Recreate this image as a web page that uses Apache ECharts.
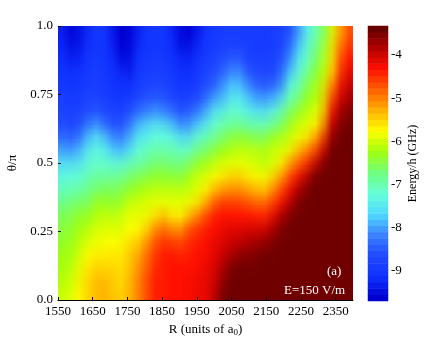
<!DOCTYPE html>
<html>
<head>
<meta charset="utf-8">
<title>Energy map</title>
<script src="https://cdn.jsdelivr.net/npm/echarts@6/dist/echarts.min.js"></script>
<style>
  html, body { margin: 0; padding: 0; background: #fff; }
  #wrap { position: relative; width: 447px; height: 337px; overflow: hidden; }
  /* the map is drawn one pixel per cell and stretched, so the browser smooths it */
  #map { position: absolute; left: 58px; top: 26px; transform-origin: 0 0; }
  #main { position: absolute; left: 0; top: 0; width: 447px; height: 337px; }
</style>
</head>
<body>
<div id="wrap">
  <div id="map"></div>
  <div id="main"></div>
</div>
<script>
var rBins = [1550,1575,1600,1625,1650,1675,1700,1725,1750,1775,1800,1825,1850,1875,1900,1925,1950,1975,2000,2025,2050,2075,2100,2125,2150,2175,2200,2225,2250,2275,2300,2325,2350,2375,2400];
var thetaBins = [0,0.05,0.1,0.15,0.2,0.25,0.3,0.35,0.4,0.45,0.5,0.55,0.6,0.65,0.7,0.75,0.8,0.85,0.9,0.95,1];
// one line per R bin, theta going up from 0 to 1
var energy = [
[-6.0,-6.1,-6.2,-6.2,-6.3,-6.4,-6.5,-6.7,-7.0,-7.3,-7.5,-7.9,-8.3,-8.6,-8.7,-8.8,-8.9,-9.0,-9.1,-9.2,-9.3],
[-5.9,-6.0,-6.1,-6.2,-6.3,-6.4,-6.5,-6.7,-7.0,-7.2,-7.5,-8.0,-8.4,-8.7,-8.8,-8.9,-9.0,-9.1,-9.3,-9.4,-9.6],
[-5.7,-5.8,-5.9,-6.0,-6.1,-6.2,-6.3,-6.5,-6.9,-7.2,-7.5,-7.9,-8.4,-8.7,-8.8,-8.9,-9.0,-9.1,-9.3,-9.5,-9.6],
[-5.5,-5.5,-5.6,-5.7,-5.9,-6.1,-6.3,-6.6,-6.8,-7.0,-7.3,-7.5,-7.9,-8.4,-8.7,-8.8,-8.9,-9.0,-9.1,-9.2,-9.3],
[-5.3,-5.3,-5.4,-5.6,-5.8,-5.9,-6.1,-6.3,-6.6,-6.9,-7.1,-7.3,-7.5,-8.0,-8.5,-8.7,-8.8,-8.8,-8.9,-9.0,-9.0],
[-5.2,-5.2,-5.4,-5.6,-5.7,-5.9,-6.0,-6.2,-6.5,-6.8,-7.1,-7.3,-7.6,-8.2,-8.6,-8.8,-8.9,-8.9,-9.0,-9.0,-9.0],
[-5.3,-5.3,-5.4,-5.5,-5.7,-5.8,-6.0,-6.3,-6.5,-6.8,-7.1,-7.6,-8.0,-8.5,-8.7,-8.9,-9.0,-9.1,-9.1,-9.2,-9.3],
[-5.4,-5.5,-5.5,-5.6,-5.7,-5.9,-6.0,-6.3,-6.5,-6.8,-7.2,-7.8,-8.2,-8.6,-8.8,-9.0,-9.1,-9.2,-9.4,-9.6,-9.7],
[-5.3,-5.3,-5.4,-5.4,-5.5,-5.7,-5.8,-6.0,-6.3,-6.6,-7.0,-7.6,-8.0,-8.4,-8.7,-9.0,-9.1,-9.4,-9.6,-9.7,-9.7],
[-5.0,-5.0,-5.1,-5.2,-5.4,-5.7,-5.8,-5.9,-6.2,-6.5,-6.9,-7.2,-7.5,-7.9,-8.4,-8.7,-8.9,-9.0,-9.1,-9.3,-9.4],
[-4.7,-4.7,-4.8,-4.9,-5.1,-5.5,-5.8,-5.9,-6.1,-6.4,-6.8,-7.1,-7.4,-7.7,-8.2,-8.6,-8.8,-8.9,-9.0,-9.0,-9.1],
[-4.3,-4.3,-4.4,-4.5,-4.7,-5.0,-5.6,-5.8,-6.0,-6.3,-6.6,-6.9,-7.2,-7.5,-8.0,-8.5,-8.7,-8.8,-8.9,-9.0,-9.0],
[-4.3,-4.3,-4.3,-4.3,-4.4,-4.7,-5.2,-5.8,-6.0,-6.3,-6.6,-6.9,-7.2,-7.5,-8.1,-8.5,-8.7,-8.8,-8.9,-9.0,-9.0],
[-4.2,-4.2,-4.2,-4.2,-4.4,-4.8,-5.4,-5.8,-6.0,-6.3,-6.6,-6.9,-7.2,-7.6,-8.2,-8.6,-8.8,-8.9,-9.0,-9.1,-9.2],
[-4.2,-4.2,-4.2,-4.3,-4.5,-5.0,-5.7,-5.8,-6.0,-6.4,-6.7,-7.0,-7.4,-8.0,-8.5,-8.8,-9.0,-9.1,-9.2,-9.4,-9.5],
[-4.2,-4.2,-4.2,-4.3,-4.4,-4.6,-5.3,-5.8,-6.0,-6.2,-6.6,-7.1,-7.5,-8.1,-8.5,-8.8,-9.0,-9.2,-9.3,-9.5,-9.7],
[-4.1,-4.1,-4.2,-4.2,-4.3,-4.4,-4.9,-5.6,-5.9,-6.0,-6.3,-6.7,-7.2,-7.8,-8.3,-8.7,-8.9,-9.0,-9.1,-9.3,-9.5],
[-4.1,-4.1,-4.1,-4.2,-4.2,-4.3,-4.6,-5.2,-5.7,-5.9,-6.2,-6.6,-7.0,-7.5,-8.0,-8.5,-8.7,-8.8,-8.9,-9.0,-9.2],
[-3.9,-4.0,-4.0,-4.1,-4.1,-4.2,-4.3,-4.7,-5.3,-5.7,-6.0,-6.4,-6.8,-7.2,-7.5,-8.0,-8.5,-8.7,-8.8,-8.9,-9.0],
[-3.4,-3.6,-3.8,-3.9,-4.0,-4.1,-4.2,-4.4,-5.0,-5.6,-5.9,-6.2,-6.6,-7.0,-7.4,-7.9,-8.2,-8.5,-8.7,-8.8,-8.9],
[-3.3,-3.3,-3.4,-3.7,-3.9,-4.0,-4.2,-4.4,-4.9,-5.4,-5.8,-6.1,-6.4,-6.8,-7.1,-7.5,-7.8,-8.2,-8.5,-8.8,-8.9],
[-3.3,-3.3,-3.3,-3.5,-3.8,-4.0,-4.2,-4.4,-4.9,-5.3,-5.8,-6.0,-6.3,-6.8,-7.1,-7.4,-7.7,-8.0,-8.4,-8.7,-8.9],
[-3.3,-3.3,-3.3,-3.4,-3.7,-3.9,-4.2,-4.5,-5.0,-5.5,-5.8,-6.0,-6.3,-6.8,-7.3,-7.6,-8.0,-8.4,-8.7,-8.8,-8.9],
[-3.3,-3.3,-3.3,-3.4,-3.6,-3.9,-4.2,-4.6,-5.1,-5.6,-5.9,-6.0,-6.4,-6.9,-7.4,-7.9,-8.3,-8.6,-8.8,-8.9,-8.9],
[-3.3,-3.3,-3.3,-3.3,-3.5,-3.9,-4.3,-4.7,-5.3,-5.7,-6.0,-6.1,-6.5,-7.0,-7.5,-8.0,-8.5,-8.7,-8.8,-8.9,-8.9],
[-3.3,-3.3,-3.3,-3.3,-3.4,-3.7,-4.1,-4.5,-5.0,-5.5,-6.0,-6.0,-6.2,-6.8,-7.3,-7.9,-8.4,-8.7,-8.8,-8.9,-8.9],
[-3.3,-3.3,-3.3,-3.3,-3.3,-3.4,-3.7,-4.2,-4.6,-5.1,-5.7,-5.9,-6.1,-6.6,-7.0,-7.7,-8.3,-8.6,-8.7,-8.8,-8.8],
[-3.3,-3.3,-3.3,-3.3,-3.3,-3.3,-3.4,-3.8,-4.2,-4.6,-5.1,-5.8,-6.0,-6.3,-6.6,-7.0,-7.3,-7.9,-8.3,-8.6,-8.8],
[-3.3,-3.3,-3.3,-3.3,-3.3,-3.3,-3.3,-3.4,-3.7,-4.2,-4.7,-5.3,-5.8,-6.0,-6.3,-6.8,-7.1,-7.4,-7.6,-7.9,-8.2],
[-3.3,-3.3,-3.3,-3.3,-3.3,-3.3,-3.3,-3.3,-3.4,-3.8,-4.4,-4.9,-5.6,-5.9,-6.1,-6.3,-6.6,-6.9,-7.2,-7.4,-7.6],
[-3.3,-3.3,-3.3,-3.3,-3.3,-3.3,-3.3,-3.3,-3.3,-3.3,-3.9,-4.6,-5.2,-5.7,-5.9,-6.2,-6.3,-6.5,-6.7,-6.9,-7.1],
[-3.3,-3.3,-3.3,-3.3,-3.3,-3.3,-3.3,-3.3,-3.3,-3.3,-3.4,-4.0,-4.6,-5.3,-5.8,-5.9,-6.0,-6.2,-6.4,-6.5,-6.7],
[-3.3,-3.3,-3.3,-3.3,-3.3,-3.3,-3.3,-3.3,-3.3,-3.3,-3.3,-3.3,-3.6,-3.9,-4.3,-4.7,-5.1,-5.6,-5.8,-5.9,-6.0],
[-3.3,-3.3,-3.3,-3.3,-3.3,-3.3,-3.3,-3.3,-3.3,-3.3,-3.3,-3.3,-3.3,-3.5,-3.7,-4.0,-4.3,-4.6,-4.8,-5.0,-5.3],
[-3.3,-3.3,-3.3,-3.3,-3.3,-3.3,-3.3,-3.3,-3.3,-3.3,-3.3,-3.3,-3.3,-3.3,-3.4,-3.6,-3.8,-4.0,-4.2,-4.4,-4.6]
];
var barLevels = [-9.7,-9.55,-9.4,-9.25,-9.1,-8.95,-8.8,-8.65,-8.5,-8.35,-8.2,-8.05,-7.9,-7.75,-7.6,-7.45,-7.3,-7.15,-7.0,-6.85,-6.7,-6.55,-6.4,-6.25,-6.1,-5.95,-5.8,-5.65,-5.5,-5.35,-5.2,-5.05,-4.9,-4.75,-4.6,-4.45,-4.3,-4.15,-4.0,-3.85,-3.7,-3.55,-3.4,-3.25];
var rTicks = [1550,1650,1750,1850,1950,2050,2150,2250,2350];
var thetaTicks = [0,0.25,0.5,0.75,1];
var thetaLabels = ['0.0','0.25','0.5','0.75','1.0'];
var barTicks = [-9,-8,-7,-6,-5,-4];
var barMarks = [-9,-4];
var jetColors = ['#0000d0','#1030ff','#2048ff','#3a80ff','#50d8ff','#66ffd8','#70ff80','#a0ff10','#ffff00','#ffb000','#ff6000','#ff1000','#b00000','#600000'];

var mapData = [];
energy.forEach(function(col, i){
  col.forEach(function(v, j){
    mapData.push([i, j, v]);
  });
});
var barData = barLevels.map(function(v, i){ return [0, i, v]; });

var serif = '"Liberation Serif", "DejaVu Serif", serif';
var colorMap = {show:false, type:'continuous', min:-9.7, max:-3.2, inRange:{color:jetColors}};

// map layer
var mapDom = document.getElementById('map');
mapDom.style.width = rBins.length + 'px';
mapDom.style.height = thetaBins.length + 'px';
mapDom.style.transform = 'scale(' + (295 / rBins.length) + ',' + (274 / thetaBins.length) + ')';
var mapChart = echarts.init(mapDom);
mapChart.setOption({
  animation:false,
  grid:{left:0, top:0, right:0, bottom:0, outerBoundsMode:'none'},
  visualMap:colorMap,
  xAxis:{type:'category', data:rBins, show:false},
  yAxis:{type:'category', data:thetaBins, show:false},
  series:[{type:'heatmap', data:mapData, silent:true, progressive:0}]
});

// axes, colour bar and text
var myChart = echarts.init(document.getElementById('main'));
myChart.setOption({
  animation:false,
  textStyle:{fontFamily:serif, color:'#000'},
  grid:[
    {left:58, top:26, width:295, height:274, outerBoundsMode:'none'},
    {left:368, top:26, width:20, height:275, outerBoundsMode:'none'}
  ],
  visualMap:colorMap,
  xAxis:[
    {type:'value', gridIndex:0, position:'top', min:1550, max:2400,
      axisLine:{show:true, lineStyle:{color:'#000', width:1}}, axisTick:{show:false}, axisLabel:{show:false}, splitLine:{show:false}},
    {type:'value', gridIndex:0, position:'bottom', min:1550, max:2400,
      axisLine:{show:false}, splitLine:{show:false},
      axisTick:{show:true, inside:true, length:3, customValues:rTicks, lineStyle:{color:'#000'}},
      axisLabel:{show:true, customValues:rTicks, margin:5, fontSize:13, fontFamily:serif, color:'#000',
        formatter:function(v){ return String(v); }},
      name:'R (units of a{sub|0})', nameLocation:'middle', nameGap:16,
      nameTextStyle:{fontFamily:serif, fontSize:13, color:'#000', rich:{sub:{fontSize:9, verticalAlign:'bottom', padding:[6,0,0,0], fontFamily:serif}}}},
    {type:'category', gridIndex:1, data:['bar'], axisLine:{show:false}, axisTick:{show:false}, axisLabel:{show:false}}
  ],
  yAxis:[
    {type:'value', gridIndex:0, position:'left', min:0, max:1,
      axisLine:{show:false}, splitLine:{show:false},
      axisTick:{show:true, inside:true, length:3, customValues:thetaTicks, lineStyle:{color:'#000'}},
      axisLabel:{show:true, customValues:thetaTicks, margin:5, fontSize:13, fontFamily:serif, color:'#000',
        formatter:function(v){ return thetaLabels[thetaTicks.indexOf(v)]; }},
      name:'θ/π', nameLocation:'middle', nameGap:33, nameRotate:90,
      nameTextStyle:{fontFamily:serif, fontSize:13, color:'#000'}},
    {type:'category', gridIndex:1, data:barLevels, axisLine:{show:false}, axisTick:{show:false}, axisLabel:{show:false}},
    {type:'value', gridIndex:1, position:'right', min:-9.7, max:-3.33,
      axisLine:{show:false}, splitLine:{show:false},
      axisTick:{show:true, inside:true, length:3, customValues:barMarks, lineStyle:{color:'#000'}},
      axisLabel:{show:true, customValues:barTicks, margin:3, fontSize:13, fontFamily:serif, color:'#000',
        formatter:function(v){ return '-' + Math.abs(v); }},
      name:'Energy/h (GHz)', nameLocation:'middle', nameGap:19, nameRotate:90,
      nameTextStyle:{fontFamily:serif, fontSize:12, color:'#000'}},
    {type:'value', gridIndex:1, position:'left', min:-9.7, max:-3.33,
      axisLine:{show:false}, splitLine:{show:false}, axisLabel:{show:false},
      axisTick:{show:true, inside:true, length:3, customValues:barMarks, lineStyle:{color:'#000'}}}
  ],
  series:[
    {type:'heatmap', xAxisIndex:2, yAxisIndex:1, data:barData, silent:true, progressive:0}
  ],
  graphic:[
    {type:'text', left:327, top:265, style:{text:'(a)', fill:'#fff', font:'13px '+serif}},
    {type:'text', left:284, top:284, style:{text:'E=150 V/m', fill:'#fff', font:'13px '+serif}}
  ]
});
</script>
</body>
</html>
